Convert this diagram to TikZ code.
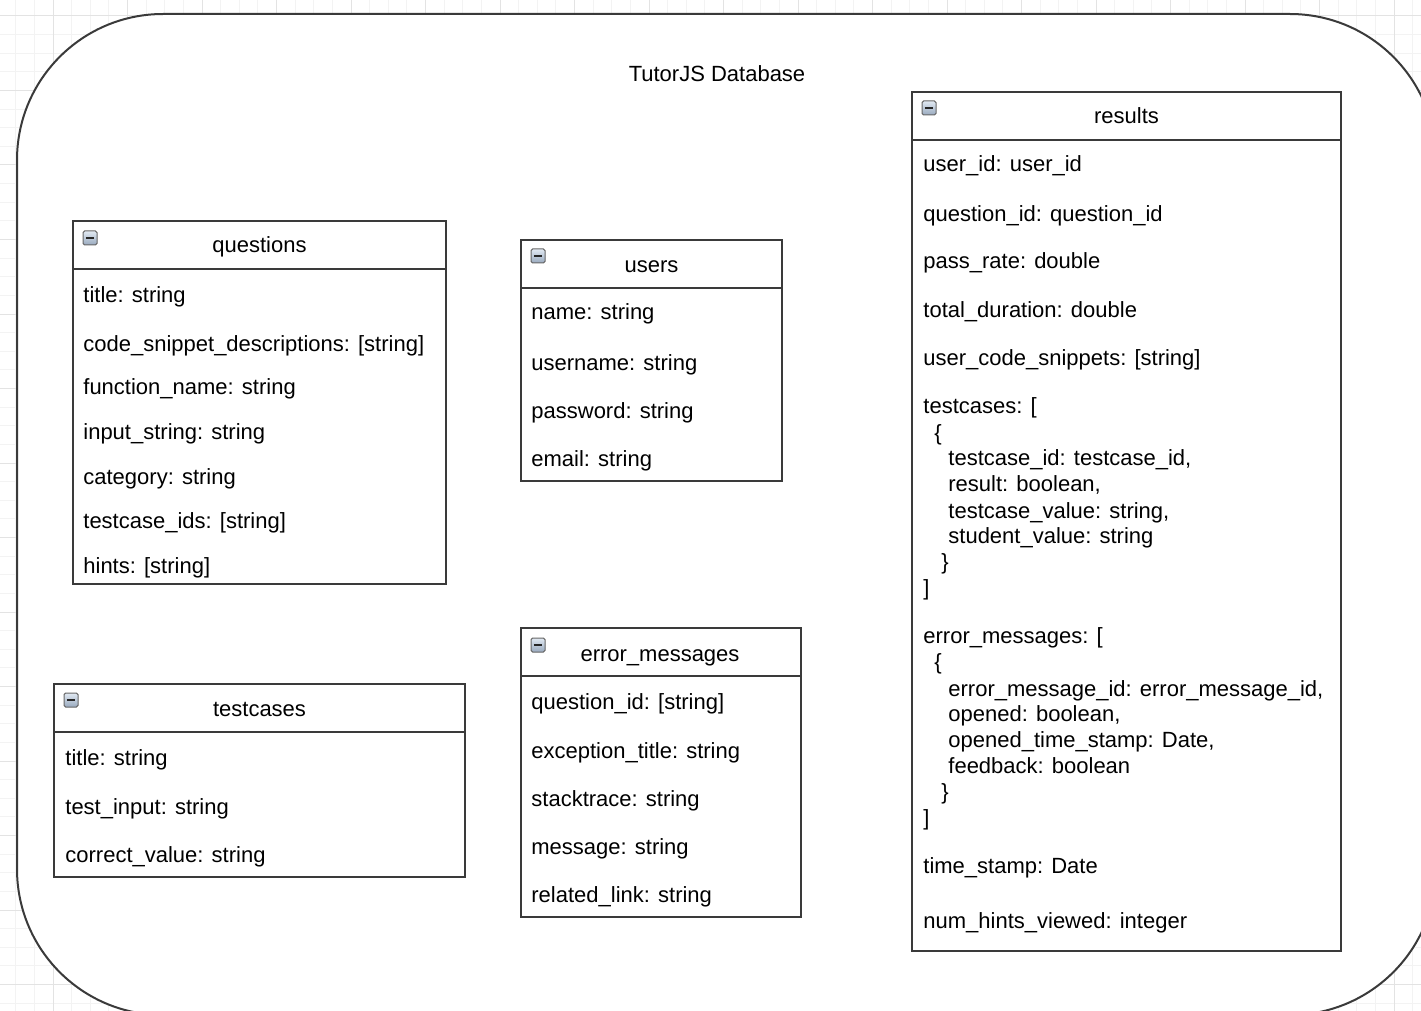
\documentclass[tikz,border=0pt]{standalone}
\usepackage{fontspec}
\setmainfont{Liberation Sans}
\usetikzlibrary{fit,calc}
\definecolor{minorgrid}{HTML}{F3F3F3}
\definecolor{majorgrid}{HTML}{E3E3E3}
\definecolor{edge}{HTML}{3A3A3A}
\definecolor{icontop}{HTML}{E2EAF3}
\definecolor{iconbot}{HTML}{98A9BE}
\tikzset{
  tbl/.style={draw=edge, line width=1.1pt, inner sep=0pt, fill=white},
  hdrline/.style={draw=edge, line width=1.1pt},
  fld/.style={anchor=base west, inner sep=0pt, font=\fontsize{11}{13}\selectfont, text=black},
  hdr/.style={anchor=base, inner sep=0pt, font=\fontsize{11}{13}\selectfont, text=black},
  icon/.style={draw=black!60, line width=0.5pt, rounded corners=0.8pt, minimum size=7pt, inner sep=0pt,
    top color=icontop, bottom color=iconbot,
    path picture={\draw[line width=0.9pt, black!85] ($(path picture bounding box.west)+(1.4pt,0)$) -- ($(path picture bounding box.east)+(-1.4pt,0)$);}},
}
\begin{document}
\begin{tikzpicture}[x=0.5pt,y=-0.5pt]
\useasboundingbox (0,0) rectangle (1421,1011);
\clip (0,0) rectangle (1421,1011);
% background grid
\foreach \k in {-3,...,74} {
  \draw[minorgrid, line width=0.5pt] ({53+18.625*\k},0) -- ({53+18.625*\k},1011);
}
\foreach \k in {-1,...,54} {
  \draw[minorgrid, line width=0.5pt] (0,{16+18.625*\k}) -- (1421,{16+18.625*\k});
}
\foreach \k in {-1,...,19} {
  \draw[majorgrid, line width=0.5pt] ({53+74.5*\k},0) -- ({53+74.5*\k},1011);
}
\foreach \k in {0,...,13} {
  \draw[majorgrid, line width=0.5pt] (0,{16+74.5*\k}) -- (1421,{16+74.5*\k});
}
% container
\draw[draw=edge, line width=1pt, fill=white, rounded corners=73pt] (17,14) rectangle (1436,1015);
\node[hdr] (dbtitle) at (717,82) {TutorJS Database};

% questions
\node[tbl, fit={(73,221) (446,584)}] (questions) {};
\draw[hdrline] (73,269) -- (446,269);
\node[icon] (qicon) at (90,238) {};
\node[hdr] (qtitle) at (259.5,253) {questions};
\node[fld] (q1) at (83,302) {title: string};
\node[fld] (q2) at (83,351) {code\_snippet\_descriptions: [string]};
\node[fld] (q3) at (83,394) {function\_name: string};
\node[fld] (q4) at (83,439) {input\_string: string};
\node[fld] (q5) at (83,484) {category: string};
\node[fld] (q6) at (83,528) {testcase\_ids: [string]};
\node[fld] (q7) at (83,573) {hints: [string]};

% users
\node[tbl, fit={(521,240) (782,481)}] (users) {};
\draw[hdrline] (521,288) -- (782,288);
\node[icon] (uicon) at (538,256) {};
\node[hdr] (utitle) at (651.5,272) {users};
\node[fld] (u1) at (531,320) {name: string};
\node[fld] (u2) at (531,370) {username: string};
\node[fld] (u3) at (531,418) {password: string};
\node[fld] (u4) at (531,466) {email: string};

% testcases
\node[tbl, fit={(54,684) (465,877)}] (testcases) {};
\draw[hdrline] (54,732) -- (465,732);
\node[icon] (ticon) at (71,700) {};
\node[hdr] (ttitle) at (259.5,716) {testcases};
\node[fld] (t1) at (65,765) {title: string};
\node[fld] (t2) at (65,814) {test\_input: string};
\node[fld] (t3) at (65,862) {correct\_value: string};

% error_messages
\node[tbl, fit={(521,628) (801,917)}] (errors) {};
\draw[hdrline] (521,676) -- (801,676);
\node[icon] (eicon) at (538,645) {};
\node[hdr] (etitle) at (660,661) {error\_messages};
\node[fld] (e1) at (531,709) {question\_id: [string]};
\node[fld] (e2) at (531,758) {exception\_title: string};
\node[fld] (e3) at (531,806) {stacktrace: string};
\node[fld] (e4) at (531,854) {message: string};
\node[fld] (e5) at (531,902) {related\_link: string};

% results
\node[tbl, fit={(912,92) (1341,951)}] (results) {};
\draw[hdrline] (912,140) -- (1341,140);
\node[icon] (ricon) at (929,108) {};
\node[hdr] (rtitle) at (1126.5,124) {results};
\node[fld] (r1) at (923,172) {user\_id: user\_id};
\node[fld] (r2) at (923,221) {question\_id: question\_id};
\node[fld] (r3) at (923,269) {pass\_rate: double};
\node[fld] (r4) at (923,317) {total\_duration: double};
\node[fld] (r5) at (923,365) {user\_code\_snippets: [string]};
\node[fld] (r6) at (923,413) {testcases: [};
\node[fld] (r7) at (934,440) {\{};
\node[fld] (r8) at (948,465) {testcase\_id: testcase\_id,};
\node[fld] (r9) at (948,491) {result: boolean,};
\node[fld] (r10) at (948,518) {testcase\_value: string,};
\node[fld] (r11) at (948,543) {student\_value: string};
\node[fld] (r12) at (941,569) {\}};
\node[fld] (r13) at (923,595) {]};
\node[fld] (r14) at (923,643) {error\_messages: [};
\node[fld] (r15) at (934,669) {\{};
\node[fld] (r16) at (948,696) {error\_message\_id: error\_message\_id,};
\node[fld] (r17) at (948,721) {opened: boolean,};
\node[fld] (r18) at (948,747) {opened\_time\_stamp: Date,};
\node[fld] (r19) at (948,773) {feedback: boolean};
\node[fld] (r20) at (941,799) {\}};
\node[fld] (r21) at (923,825) {]};
\node[fld] (r22) at (923,873) {time\_stamp: Date};
\node[fld] (r23) at (923,928) {num\_hints\_viewed: integer};
\end{tikzpicture}
\end{document}
